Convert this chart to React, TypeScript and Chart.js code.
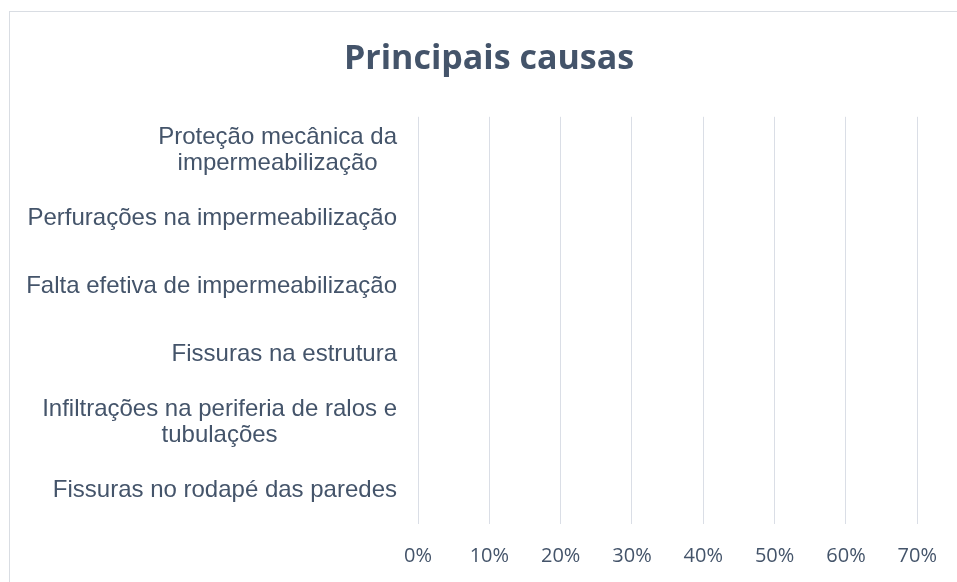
import React, { useEffect, useRef } from "react";
import { Chart, registerables } from "chart.js";

Chart.register(...registerables);

const chartTitle = "Principais causas";
const categories: string[][] = [
  ["Proteção mecânica da", "impermeabilização"],
  ["Perfurações na impermeabilização"],
  ["Falta efetiva de impermeabilização"],
  ["Fissuras na estrutura"],
  ["Infiltrações na periferia de ralos e", "tubulações"],
  ["Fissuras no rodapé das paredes"],
];
const values: number[] = [0, 0, 0, 0, 0, 0];
const xMin = 0;
const xMax = 0.7;
const xStep = 0.1;

const TEXT = "#44546a";
const GRID = "#dadee6";
const CAT_FONT = '24px "Liberation Sans", Arial, sans-serif';
const CAT_LH = 26;

const categoryLabels = {
  id: "categoryLabels",
  afterDraw(chart: any) {
    const ys = chart.scales.y;
    const ctx = chart.ctx as CanvasRenderingContext2D;
    const right = chart.chartArea.left - 21;
    ctx.save();
    ctx.font = CAT_FONT;
    ctx.fillStyle = TEXT;
    ctx.textAlign = "center";
    ctx.textBaseline = "middle";
    (chart.data.labels as string[][]).forEach((lab, i) => {
      const lines = Array.isArray(lab) ? lab : [lab];
      const w = Math.max(...lines.map((l) => ctx.measureText(l).width));
      const cx = right - w / 2;
      const y0 = ys.getPixelForTick(i) - ((lines.length - 1) * CAT_LH) / 2;
      lines.forEach((l, j) => ctx.fillText(l, cx, y0 + j * CAT_LH));
    });
    ctx.restore();
  },
};

export default function App() {
  const ref = useRef<HTMLCanvasElement | null>(null);
  useEffect(() => {
    document.body.style.margin = "0";
    const canvas = ref.current!;
    const chart = new Chart(canvas, {
      type: "bar",
      data: {
        labels: categories,
        datasets: [
          {
            label: chartTitle,
            data: values,
            backgroundColor: "#4472c4",
            borderWidth: 0,
          },
        ],
      },
      options: {
        indexAxis: "y",
        responsive: false,
        animation: false,
        layout: { padding: { left: 58, right: 37, top: 0, bottom: 14 } },
        plugins: {
          legend: { display: false },
          tooltip: { enabled: false },
          title: {
            display: true,
            text: chartTitle,
            color: TEXT,
            font: { family: '"Open Sans", sans-serif', size: 34, weight: "bold", lineHeight: 1.2 },
            padding: { top: 39, bottom: 37 },
          },
        },
        scales: {
          x: {
            type: "linear",
            min: xMin,
            max: xMax,
            grid: { color: GRID, lineWidth: 1, drawTicks: false },
            border: { display: false },
            ticks: {
              stepSize: xStep,
              padding: 20,
              maxRotation: 0,
              color: TEXT,
              font: { family: '"Open Sans", sans-serif', size: 20, lineHeight: 1.2 },
              callback: (v: any) => Math.round(Number(v) * 100) + "%",
            },
            afterFit: (scale: any) => {
              scale.height = 44;
            },
          },
          y: {
            grid: { display: false, drawTicks: false },
            border: { display: false },
            ticks: { display: false },
            afterFit: (scale: any) => {
              scale.width = 360;
            },
          },
        },
      },
      plugins: [categoryLabels],
    });
    return () => chart.destroy();
  }, []);

  return (
    <div style={{ position: "relative", width: 957, height: 582, overflow: "hidden", background: "#fff" }}>
      <div
        style={{
          position: "absolute",
          left: 9,
          top: 11,
          width: 980,
          height: 600,
          border: "1px solid #d9dde3",
          boxSizing: "border-box",
        }}
      />
      <canvas ref={ref} width={957} height={582} style={{ position: "absolute", left: 0, top: 0, display: "block" }} />
    </div>
  );
}
